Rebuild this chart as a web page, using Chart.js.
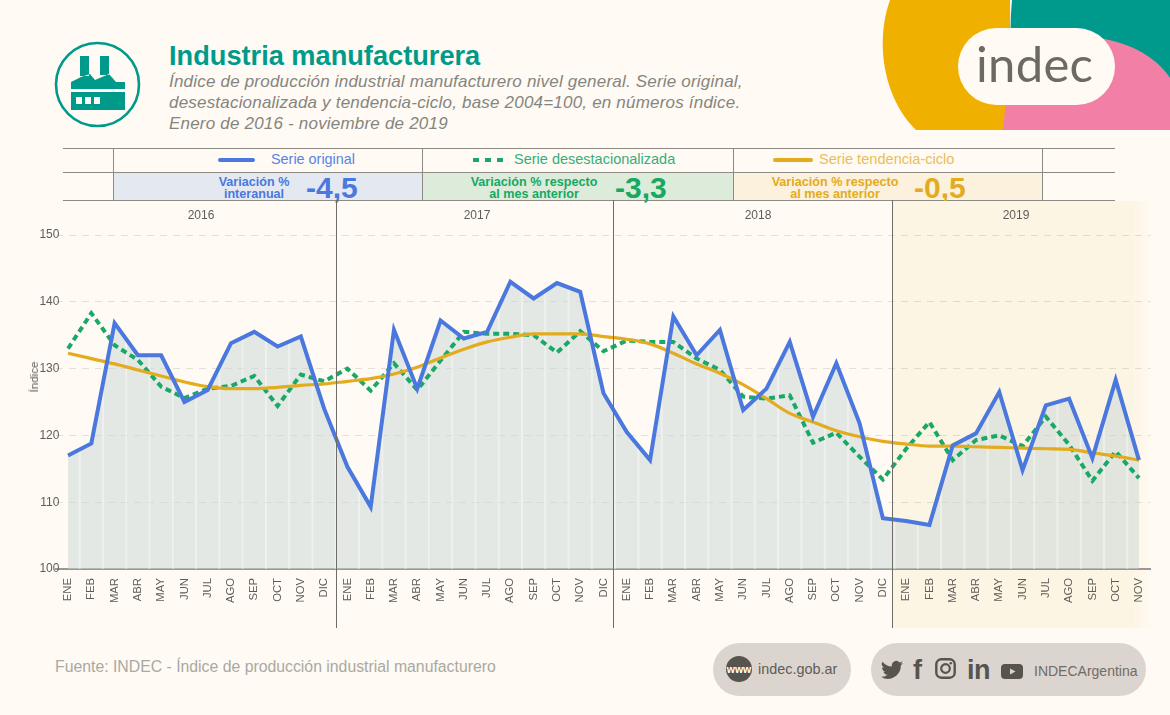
<!DOCTYPE html>
<html lang="es"><head><meta charset="utf-8">
<script src="https://cdn.jsdelivr.net/npm/chart.js@4/dist/chart.umd.min.js"></script>
<style>
html,body{margin:0;padding:0;background:#fffaf3;width:1170px;height:715px;overflow:hidden;font-family:"Liberation Sans",Arial,sans-serif}
.a{position:absolute;white-space:nowrap}
#c{position:absolute;left:0;top:0;z-index:2}
.hl{position:absolute;left:63px;width:1052px;height:1px;background:#8d8a84}
.vl{position:absolute;top:148px;width:1px;height:52px;background:#8d8a84}
.band{position:absolute;top:173px;height:27px}
.vt{font-weight:bold;font-size:12.6px;line-height:12px;text-align:center;transform:translateX(-50%)}
.vv{font-weight:bold;font-size:30px;line-height:30px}
.yr{font-size:12px;color:#5d5d58;top:208px;transform:translateX(-50%)}
.pill{position:absolute;background:#dcd5cf;border-radius:27px;top:643px;height:53px}
</style></head><body>
<svg class="a" style="left:880px;top:0" width="290" height="131" viewBox="880 0 290 131">
<path d="M890 0C874 45 885 100 916 130H1010V0Z" fill="#f0b000"/>
<path d="M1012 0H1170V90L1090 60L1012 60C1010 40 1010 20 1012 0Z" fill="#009a8c"/>
<path d="M1003 130L1007 90L1090 37C1125 40 1155 55 1170 78V130Z" fill="#f27fa5"/>
<rect x="958" y="28" width="157" height="77" rx="38.5" fill="#fffaf3"/>
</svg>
<div class="a" style="left:976px;top:35px;font:400 49px/56px Lato,sans-serif;color:#6d6a62;letter-spacing:.3px">indec</div>
<svg class="a" style="left:50px;top:38px" width="95" height="95" viewBox="50 38 95 95">
<circle cx="97.5" cy="84.5" r="41.5" fill="none" stroke="#009a8a" stroke-width="2.6"/>
<path fill="#009a8a" d="M80 56h9v20h-9zM100 56h9v19h-9zM71 82v7h54v-7h-9l-7-8-14 6-5-6-9 3zM71 92h54v18H71z"/>
<path fill="#fffaf3" d="M76 97h6v7h-6zM85 97h6v7h-6zM94 97h6v7h-6z"/>
</svg>
<div class="a" style="left:169px;top:40px;font-weight:bold;font-size:27.2px;line-height:31px;color:#009a8a">Industria manufacturera</div>
<div class="a" style="left:169px;top:71px;font-style:italic;font-size:17px;letter-spacing:.2px;line-height:21px;color:#85857f">Índice de producción industrial manufacturero nivel general. Serie original,<br>desestacionalizada y tendencia-ciclo, base 2004=100, en números índice.<br>Enero de 2016 - noviembre de 2019</div>

<div class="band" style="left:113px;width:309px;background:#e4e8f1"></div>
<div class="band" style="left:423px;width:310px;background:#ddebdb"></div>
<div class="band" style="left:734px;width:308px;background:#fcf1dc"></div>
<div class="hl" style="top:148px"></div><div class="hl" style="top:172px"></div><div class="hl" style="top:200px"></div>
<div class="vl" style="left:113px"></div><div class="vl" style="left:422px"></div><div class="vl" style="left:733px"></div><div class="vl" style="left:1042px"></div>

<svg class="a" style="left:0;top:150px" width="1170" height="20">
<line x1="220" x2="253" y1="10" y2="10" stroke="#4a78de" stroke-width="4" stroke-linecap="round"/>
<line x1="473" x2="505" y1="10" y2="10" stroke="#1aa866" stroke-width="4" stroke-dasharray="6 6"/>
<line x1="775" x2="811" y1="10" y2="10" stroke="#e3ab1e" stroke-width="4" stroke-linecap="round"/>
</svg>
<div class="a" style="left:271px;top:151px;font-size:14.4px;line-height:17px;color:#5784e2">Serie original</div>
<div class="a" style="left:514px;top:151px;font-size:14.5px;line-height:17px;color:#35ae7c">Serie desestacionalizada</div>
<div class="a" style="left:819px;top:151px;font-size:14.6px;line-height:17px;color:#e8be5c">Serie tendencia-ciclo</div>

<div class="a vt" style="left:254px;top:176px;color:#4a78de">Variación %<br>interanual</div>
<div class="a vv" style="left:306px;top:173px;color:#4a78de">-4,5</div>
<div class="a vt" style="left:534px;top:176px;color:#17a862">Variación % respecto<br>al mes anterior</div>
<div class="a vv" style="left:615px;top:173px;color:#17a862">-3,3</div>
<div class="a vt" style="left:835px;top:176px;color:#e3ab1e">Variación % respecto<br>al mes anterior</div>
<div class="a vv" style="left:914px;top:173px;color:#e3ab1e">-0,5</div>

<canvas id="c" width="1170" height="715"></canvas>
<div class="a yr" style="left:201px;z-index:3">2016</div>
<div class="a yr" style="left:477px;z-index:3">2017</div>
<div class="a yr" style="left:758px;z-index:3">2018</div>
<div class="a yr" style="left:1016px;z-index:3">2019</div>
<div class="a" style="left:34px;top:377px;font-size:11.6px;line-height:14px;color:#5d5d58;transform:translate(-50%,-50%) rotate(-90deg);z-index:3">Índice</div>

<div class="a" style="left:55px;top:658px;font-size:15.8px;line-height:18px;color:#a9a9a2">Fuente: INDEC - Índice de producción industrial manufacturero</div>
<div class="pill" style="left:713px;width:138px"></div>
<div class="pill" style="left:871px;width:275px"></div>
<svg class="a" style="left:726px;top:656px" width="26" height="26"><circle cx="13" cy="13" r="13" fill="#57544e"/><text x="13" y="17" text-anchor="middle" font-family="Liberation Sans" font-weight="bold" font-size="10.5" fill="#fff">www</text></svg>
<div class="a" style="left:758px;top:660px;font-size:14.4px;line-height:18px;color:#5f5c56">indec.gob.ar</div>
<svg class="a" style="left:881px;top:660px" width="22" height="20" viewBox="0 0 24 20"><path fill="#57544e" d="M24 2.4c-.9.4-1.8.7-2.8.8 1-.6 1.8-1.6 2.2-2.7-1 .6-2 1-3.100 1.200A4.900 4.900 0 0 0 11.900 6.200 14 14 0 0 1 1.700.9a4.900 4.900 0 0 0 1.500 6.600c-.8 0-1.600-.2-2.200-.6 0 2.400 1.700 4.400 3.900 4.900-.7.200-1.500.2-2.200.1.600 2 2.400 3.400 4.600 3.400A9.900 9.900 0 0 1 0 17.300 14 14 0 0 0 21.600 4.900c1-.7 1.800-1.500 2.400-2.500z"/></svg>
<div class="a" style="left:913px;top:655px;font-weight:bold;font-size:27px;line-height:30px;color:#57544e">f</div>
<svg class="a" style="left:935px;top:658px" width="21" height="21"><rect x="1.300" y="1.300" width="18.400" height="18.400" rx="5" fill="none" stroke="#57544e" stroke-width="2.400"/><circle cx="10.500" cy="10.500" r="4.300" fill="none" stroke="#57544e" stroke-width="2.200"/><circle cx="15.800" cy="5.200" r="1.300" fill="#57544e"/></svg>
<div class="a" style="left:967px;top:655px;font-weight:bold;font-size:27px;line-height:30px;color:#57544e;letter-spacing:-.5px">in</div>
<svg class="a" style="left:1001px;top:664px" width="22" height="15"><rect width="22" height="15" rx="4" fill="#57544e"/><path d="M9 4.500l5.500 3-5.500 3z" fill="#dcd5cf"/></svg>
<div class="a" style="left:1034px;top:663px;font-size:14px;line-height:17px;color:#6f6c66">INDECArgentina</div>

<script>
const monthNames = ['ENE','FEB','MAR','ABR','MAY','JUN','JUL','AGO','SEP','OCT','NOV','DIC'];
const categories = [...monthNames, ...monthNames, ...monthNames, ...monthNames.slice(0, 11)];
const yTicks = [100, 110, 120, 130, 140, 150];
const yearBreaks = [11.5, 23.39, 35.4];
const serieOriginal = [
  117.0,118.8,136.8,132.0,132.0,125.0,126.8,133.8,135.5,133.3,134.8,124.0,
  115.3,109.3,135.8,127.0,137.2,134.5,135.5,143.0,140.5,142.8,141.5,126.3,
  120.5,116.3,137.8,132.0,135.8,123.8,127.0,134.0,122.8,130.8,121.8,107.6,
  107.2,106.6,118.5,120.3,126.5,114.8,124.5,125.5,116.6,128.3,116.3];
const serieDesest = [
  133.0,138.3,133.5,131.3,127.3,125.6,127.0,127.4,128.9,124.4,129.1,128.1,
  130.0,126.7,130.8,126.8,131.2,135.5,135.2,135.2,135.0,132.4,135.6,132.6,
  134.2,134.0,134.0,131.5,129.8,125.8,125.5,126.0,118.9,120.4,116.8,113.4,
  118.0,122.0,116.3,119.3,120.0,118.4,122.8,118.6,113.2,117.6,113.6];
const serieTendencia = [
  132.3,131.5,130.7,129.8,128.9,128.0,127.3,127.0,127.0,127.2,127.5,127.7,
  128.1,128.5,129.2,130.2,131.6,132.9,134.0,134.7,135.2,135.2,135.2,134.8,
  134.4,133.7,132.3,130.7,129.3,127.6,125.5,123.3,122.0,120.7,119.8,119.1,
  118.7,118.4,118.4,118.3,118.2,118.1,118.0,117.9,117.4,116.9,116.3];

const decor = {
  id: 'decor',
  beforeDraw(chart) {
    const {ctx, scales: {x}} = chart;
    const start = x.getPixelForValue(yearBreaks[2]);
    const end = x.getPixelForValue(46) + 1;
    const g = ctx.createLinearGradient(end - 6, 0, end + 12, 0);
    g.addColorStop(0, '#fdf5e4'); g.addColorStop(1, 'rgba(253,245,228,0)');
    ctx.save();
    ctx.fillStyle = '#fdf5e4'; ctx.fillRect(start, 201, end - 6 - start, 427);
    ctx.fillStyle = g; ctx.fillRect(end - 6, 201, 18, 427);
    ctx.restore();
    chart.scales.y.right = chart.chartArea.left + 3;
    chart.scales.y._labelItems = null;
  },
  afterDatasetDraw(chart, args) {
    if (args.index !== 0) return;
    const {ctx, scales: {x, y}} = chart;
    const pts = chart.getDatasetMeta(0).data;
    ctx.save();
    ctx.beginPath();
    ctx.moveTo(pts[0].x, y.bottom);
    pts.forEach(p => ctx.lineTo(p.x, p.y));
    ctx.lineTo(pts[pts.length - 1].x, y.bottom);
    ctx.closePath();
    ctx.clip();
    ctx.strokeStyle = 'rgba(255,255,255,0.4)';
    ctx.lineWidth = 2;
    for (let i = 0; i < pts.length - 1; i++) {
      const m = x.getPixelForValue(i + 0.5);
      ctx.beginPath(); ctx.moveTo(m, y.top); ctx.lineTo(m, y.bottom); ctx.stroke();
    }
    ctx.restore();
  },
  afterDatasetsDraw(chart) {
    const {ctx, scales: {x}} = chart;
    ctx.save();
    ctx.strokeStyle = '#6f6d68';
    ctx.lineWidth = 1;
    yearBreaks.forEach(b => {
      const px = Math.round(x.getPixelForValue(b)) + 0.5;
      ctx.beginPath(); ctx.moveTo(px, 200); ctx.lineTo(px, 628); ctx.stroke();
    });
    ctx.restore();
  }
};

new Chart(document.getElementById('c'), {
  type: 'line',
  plugins: [decor],
  data: {
    labels: categories,
    datasets: [
      {label:'Área', data: serieOriginal, order:4, fill:'origin', backgroundColor:'rgba(199,214,214,0.5)', borderWidth:0, borderColor:'transparent', pointRadius:0, tension:0},
      {label:'Serie desestacionalizada', data: serieDesest, order:3, fill:false, borderColor:'#1aa866', borderWidth:4, borderDash:[6,4], pointRadius:0, tension:0},
      {label:'Serie tendencia-ciclo', data: serieTendencia, order:2, fill:false, borderColor:'#e3ab1e', borderWidth:3.2, pointRadius:0, cubicInterpolationMode:'monotone'},
      {label:'Serie original', data: serieOriginal, order:1, fill:false, borderColor:'#4a78de', borderWidth:4, pointRadius:0, tension:0, borderJoinStyle:'miter'}
    ]
  },
  options: {
    responsive:false, animation:false, devicePixelRatio:1,
    layout:{padding:{top:235,right:19.4,left:0,bottom:0}},
    plugins:{legend:{display:false},tooltip:{enabled:false},title:{display:false}},
    scales:{
      x:{
        offset:true,
        afterFit(s){ s.height = 146; },
        grid:{display:false,drawTicks:false},
        border:{display:true,color:'#9a9893',width:2},
        ticks:{autoSkip:false,minRotation:90,maxRotation:90,padding:9,color:'#5d5d58',font:{family:'"Liberation Sans"',size:11.3}}
      },
      y:{
        min:100,max:150,
        afterFit(s){ s.width = 56.4; },
        afterBuildTicks(s){ s.ticks = yTicks.map(v => ({value:v})); },
        grid:{color:'rgba(90,90,80,0.16)',drawTicks:false},
        border:{display:false,dash:[7,6]},
        ticks:{padding:0,color:'#5d5d58',font:{family:'"Liberation Sans"',size:12}}
      }
    }
  }
});
</script>
</body></html>
